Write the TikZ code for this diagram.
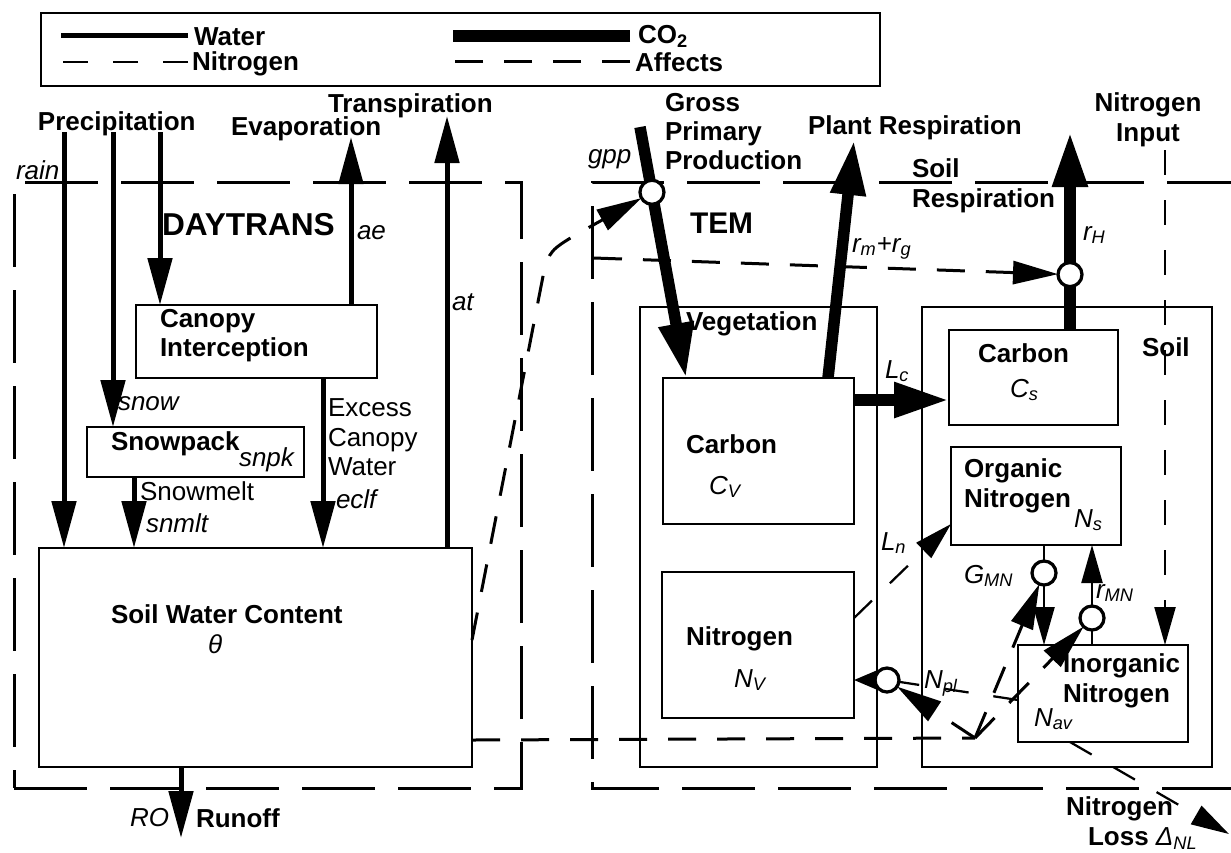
\documentclass[tikz,border=0pt]{standalone}
\usepackage{fontspec}
\setmainfont{Liberation Sans}
\usepackage{tikz}
\usetikzlibrary{arrows.meta}
\usetikzlibrary{positioning}

\begin{document}
\begin{tikzpicture}[
    x=0.2mm, y=-0.2mm,
    every node/.style={font=\fontsize{14.8}{16.7}\selectfont\bfseries, inner sep=0pt, outer sep=0pt},
    lab/.style={anchor=base west},
    ital/.style={anchor=base west, font=\fontsize{14.8}{16.7}\selectfont\itshape},
    plain/.style={font=\fontsize{14.8}{16.7}\selectfont},
    pool/.style 2 args={draw, line width=0.55mm, minimum width=#1*0.2mm, minimum height=#2*0.2mm},
    frame/.style={line width=0.6mm, dash pattern=on 14.6mm off 4.6mm},
    water/.style={line width=1mm},
    waterflow/.style={water, -{Triangle[length=9.4mm, width=4.8mm]}},
    co2/.style={line width=2.3mm},
    co2flow/.style={co2, -{Triangle[length=11mm, width=6.6mm]}},
    nitro/.style={line width=0.45mm, dash pattern=on 5mm off 5mm},
    nitroflow/.style={nitro, -{Triangle[length=7.6mm, width=4.2mm]}},
    affects/.style={line width=0.6mm, dash pattern=on 5.6mm off 4.2mm},
    affectsflow/.style={affects, -{Triangle[length=9mm, width=4.6mm]}},
    valve/.style={circle, draw, fill=white, line width=0.65mm, minimum size=4.8mm},
  ]
  \useasboundingbox (0,0) rectangle (1231,852);

  % legend
  \node[pool={839}{73}] (legend) at (460.5,49.5) {};
  \node[lab] (lwater) at (194,45) {Water};
  \node[lab] (lnitro) at (192,70) {Nitrogen};
  \node[lab] (lco2) at (638,43) {CO\textsubscript{2}};
  \node[lab] (laff) at (635,71) {Affects};
  \draw[water] (lwater.west) ++(-6,-1) -- ++(-127,0);
  \draw[nitro] (lnitro.west) ++(-4,-1) -- ++(-125,0);
  \draw[co2] (lco2.base west) ++(-8,-7) -- ++(-177,0);
  \draw[affects] (laff.west) ++(-5,0) -- ++(-176,0);

  % model frames
  \node[draw, frame, minimum width=507*0.2mm, minimum height=606*0.2mm] (daytrans) at (267.5,485) {};
  \draw[frame] (1240,182) -| (592,788) -- (1240,788);

  % pools
  \node[pool={241}{73}] (canopy) at (256.5,341.5) {};
  \node[pool={217}{50}] (snowpack) at (195.5,452) {};
  \node[pool={433}{219}] (soilwater) at (255.5,657.5) {};
  \node[pool={237}{460}] (veg) at (758.5,537) {};
  \node[pool={191}{146}] (vegc) at (758.5,451) {};
  \node[pool={192}{146}] (vegn) at (758,645) {};
  \node[pool={290}{460}] (soil) at (1067,537) {};
  \node[pool={169}{95}] (soilc) at (1033.5,377.5) {};
  \node[pool={170}{98}] (orgn) at (1036,496) {};
  \node[pool={170}{97}] (inorgn) at (1103,693.5) {};

  % labels
  \node[lab] (preclab) at (38,130) {Precipitation};
  \node[lab] (evaplab) at (231,135) {Evaporation};
  \node[lab] (translab) at (328,112) {Transpiration};
  \node[align=left, anchor=north west] (gpplab) at (665,93) {Gross\\Primary\\Production};
  \node[lab] (preslab) at (808,134) {Plant Respiration};
  \node[align=left, anchor=north west] (sreslab) at (912,159) {Soil\\Respiration};
  \node[align=center, anchor=north] (ninlab) at (1148,93) {Nitrogen\\Input};
  \node[lab, font=\fontsize{18}{20}\selectfont\bfseries] (daylab) at (162,235) {DAYTRANS};
  \node[lab, font=\fontsize{17}{19}\selectfont\bfseries] (temlab) at (690,233) {TEM};
  \node[align=left, anchor=north west] (canlab) at (160,309) {Canopy\\Interception};
  \node[lab] (snowlab) at (111,450) {Snowpack};
  \node[plain, align=left, anchor=north west] (exclab) at (328,399) {Excess\\Canopy\\Water};
  \node[plain, lab] (meltlab) at (140,500) {Snowmelt};
  \node[lab] (swlab) at (111,623) {Soil Water Content};
  \node[lab] (rolab) at (196,827) {Runoff};
  \node[lab] (veglab) at (686,330) {Vegetation};
  \node[lab] (vegclab) at (686,453) {Carbon};
  \node[lab] (vegnlab) at (686,645) {Nitrogen};
  \node[lab] (soillab) at (1142,356) {Soil};
  \node[lab] (soilclab) at (978,362) {Carbon};
  \node[align=left, anchor=north west] (orgnlab) at (964,459) {Organic\\Nitrogen};
  \node[align=left, anchor=north west] (inorglab) at (1063,654) {Inorganic\\Nitrogen};
  \node[align=left, anchor=north west] (nlosslab) at (1066,797) {Nitrogen\\\hspace*{4.4mm}Loss {\normalfont\itshape Δ\textsubscript{NL}}};

  % symbols
  \node[ital] (rainsym) at (16,179) {rain};
  \node[ital] (gppsym) at (588,163) {gpp};
  \node[ital] (aesym) at (357,239) {ae};
  \node[ital] (atsym) at (452,310) {at};
  \node[ital] (snowsym) at (118,410) {snow};
  \node[ital] (snpksym) at (239,466) {snpk};
  \node[ital] (eclfsym) at (336,508) {eclf};
  \node[ital] (snmltsym) at (146,532) {snmlt};
  \node[ital] (thetasym) at (208,653) {θ};
  \node[ital] (rosym) at (130,826) {RO};
  \node[ital] (rmgsym) at (852,252) {r\textsubscript{m}+r\textsubscript{g}};
  \node[ital] (rhsym) at (1083,240) {r\textsubscript{H}};
  \node[ital] (cvsym) at (709,494) {C\textsubscript{V}};
  \node[ital] (nvsym) at (734,687) {N\textsubscript{V}};
  \node[ital] (lcsym) at (885,378) {L\textsubscript{c}};
  \node[ital] (cssym) at (1010,397) {C\textsubscript{s}};
  \node[ital] (nssym) at (1074,527) {N\textsubscript{s}};
  \node[ital] (navsym) at (1034,726) {N\textsubscript{av}};
  \node[ital] (lnsym) at (881,550) {L\textsubscript{n}};
  \node[ital] (gmnsym) at (964,583) {G\textsubscript{MN}};
  \node[ital] (rmnsym) at (1096,598) {r\textsubscript{MN}};
  \node[ital] (nplsym) at (924,688) {N\textsubscript{pl}};

  % water
  \coordinate (rainx) at (64,132);
  \coordinate (snowx) at (113,132);
  \coordinate (canx) at (160,132);
  \coordinate (evapx) at (351,137);
  \coordinate (transx) at (447,116);
  \coordinate (excessx) at (323,0);
  \coordinate (meltx) at (134,0);
  \coordinate (runoffx) at (181,838);
  \draw[waterflow] (rainx) -- (rainx |- soilwater.north);
  \draw[waterflow] (snowx) -- (snowx |- snowpack.north);
  \draw[waterflow] (canx) -- (canx |- canopy.north);
  \draw[waterflow] (evapx |- canopy.north) -- (evapx);
  \draw[waterflow] (transx |- soilwater.north) -- (transx);
  \draw[waterflow] (excessx |- canopy.south) -- (excessx |- soilwater.north);
  \draw[waterflow] (meltx |- snowpack.south) -- (meltx |- soilwater.north);
  \draw[waterflow] (runoffx |- soilwater.south) -- (runoffx);

  % carbon
  \coordinate (gpptop) at (640,127);
  \coordinate (gppx) at (686,0);
  \coordinate (presx) at (828,0);
  \coordinate (prestip) at (854,140);
  \coordinate (lcy) at (0,400);
  \coordinate (rhtip) at (1070,132);
  \draw[co2flow] (gpptop) -- (gppx |- vegc.north) node[valve, pos=0.26] (vgpp) {};
  \draw[co2flow] (presx |- vegc.north) -- (prestip);
  \draw[co2flow] (vegc.east |- lcy) -- (soilc.west |- lcy);
  \draw[co2flow] (rhtip |- soilc.north) -- (rhtip) node[valve, pos=0.28] (vrh) {};

  % nitrogen
  \node[valve] (vgmn) at (1044,573) {};
  \node[valve] (vrmn) at (1092,618) {};
  \node[valve] (vnpl) at (887,680) {};
  \coordinate (nintop) at (1165,150);
  \coordinate (lnfrom) at (0,618);
  \coordinate (lnto) at (0,524);
  \coordinate (nply) at (0,700);
  \coordinate (nlx) at (1070,0);
  \coordinate (nltip) at (1229,834);
  \draw[nitroflow] (nintop) -- (nintop |- inorgn.north);
  \draw[nitroflow] (vegn.east |- lnfrom) -- (orgn.west |- lnto);
  \draw[nitro] (vgmn |- orgn.south) -- (vgmn);
  \draw[nitroflow] (vgmn) -- (vgmn |- inorgn.north);
  \draw[nitro] (vrmn |- inorgn.north) -- (vrmn);
  \draw[nitroflow] (vrmn) -- (vrmn |- orgn.south);
  \draw[nitro] (inorgn.west |- nply) -- (vnpl);
  \draw[nitro, -{Triangle[length=4.4mm, width=3.6mm]}] (vnpl) -- (vegn.east |- vnpl);
  \draw[nitroflow] (nlx |- inorgn.south) -- (nltip);

  % affects
  \coordinate (swaffy) at (0,640);
  \coordinate (affbend) at (545,266);
  \coordinate (temaff) at (594,258);
  \coordinate (swny) at (0,740);
  \coordinate (nsplit) at (975,738);
  \draw[affectsflow] (soilwater.east |- swaffy) -- (affbend) .. controls (552,248) .. (vgpp);
  \draw[affectsflow] (temaff) -- (vrh);
  \draw[affects] (soilwater.east |- swny) -- (nsplit);
  \draw[affectsflow] (nsplit) -- (vnpl);
  \draw[affectsflow] (nsplit) -- (vgmn);
  \draw[affectsflow] (nsplit) -- (vrmn);

\end{tikzpicture}
\end{document}
